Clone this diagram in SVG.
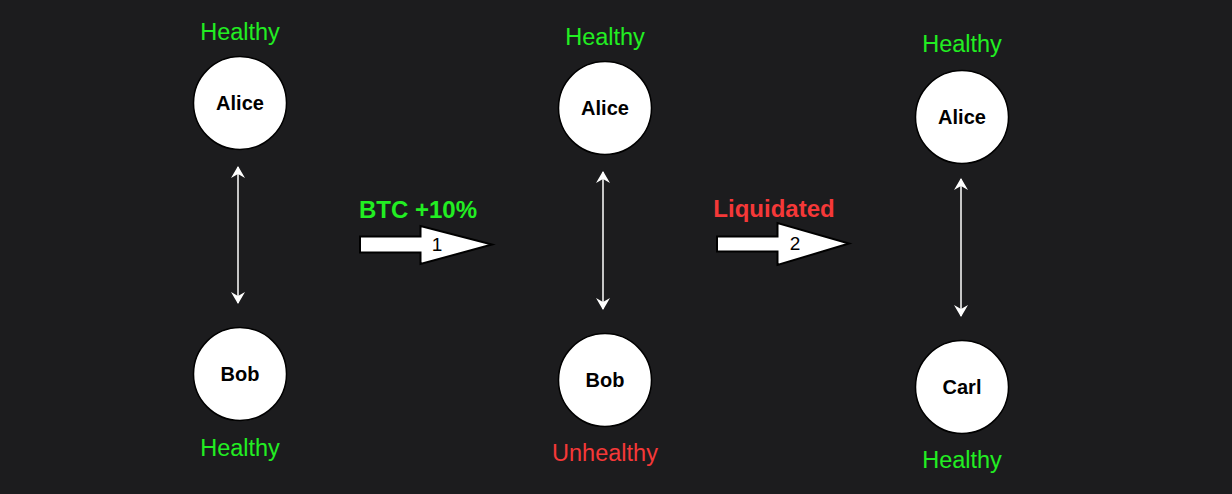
<svg xmlns="http://www.w3.org/2000/svg" width="1232" height="494" viewBox="0 0 1232 494">
<defs>
<style>
.bg{fill:#1c1c1e}
.node circle{fill:#fff;stroke:#000;stroke-width:1.5}
.node text{font-family:"Liberation Sans",Arial,sans-serif;font-weight:bold;font-size:20px;fill:#000;text-anchor:middle}
.st{font-family:"Liberation Sans",Arial,sans-serif;font-size:23.5px;text-anchor:middle}
.ok{fill:#22ee22}
.bad{fill:#f53838}
.lbl{font-family:"Liberation Sans",Arial,sans-serif;font-weight:bold;font-size:24px;text-anchor:middle}
.link{stroke:#fff;stroke-width:1.5;fill:none;marker-start:url(#ah);marker-end:url(#ah)}
.big{fill:#fff;stroke:#000;stroke-width:2}
.num{font-family:"Liberation Sans",Arial,sans-serif;font-size:19px;fill:#000;text-anchor:middle}
</style>
<marker id="ah" viewBox="0 0 12 14" refX="11" refY="7" markerWidth="12" markerHeight="14" markerUnits="userSpaceOnUse" orient="auto-start-reverse">
<path d="M0,0 L12,7 L0,14 L4,7 Z" fill="#fff"/>
</marker>
</defs>
<rect class="bg" width="1232" height="494"/>
<g id="connectors">
<line class="link" x1="238" y1="167" x2="238" y2="303"/>
<line class="link" x1="603" y1="172" x2="603" y2="309"/>
<line class="link" x1="961" y1="179" x2="961" y2="316"/>
</g>
<g id="step1">
<path class="big" d="M360,236.5 H420.5 V226 L492,244.5 L420.5,264 V252.5 H360 Z"/>
<text class="num" x="437" y="251">1</text>
<text class="lbl ok" x="418" y="218">BTC +10%</text>
</g>
<g id="step2">
<path class="big" d="M717,236.5 H777.5 V223 L849,243.5 L777.5,265 V251.5 H717 Z"/>
<text class="num" x="795" y="250">2</text>
<text class="lbl bad" x="774" y="217">Liquidated</text>
</g>
<g id="alice1" class="node">
<circle cx="240" cy="103" r="46.5"/>
<text x="240" y="110">Alice</text>
</g>
<text class="st ok" x="240" y="40">Healthy</text>
<g id="bob1" class="node">
<circle cx="240" cy="374" r="46.5"/>
<text x="240" y="381">Bob</text>
</g>
<text class="st ok" x="240" y="456">Healthy</text>
<g id="alice2" class="node">
<circle cx="605" cy="108" r="46.5"/>
<text x="605" y="115">Alice</text>
</g>
<text class="st ok" x="605" y="45">Healthy</text>
<g id="bob2" class="node">
<circle cx="605" cy="380" r="46.5"/>
<text x="605" y="387">Bob</text>
</g>
<text class="st bad" x="605" y="461">Unhealthy</text>
<g id="alice3" class="node">
<circle cx="962" cy="117" r="46.5"/>
<text x="962" y="124">Alice</text>
</g>
<text class="st ok" x="962" y="52">Healthy</text>
<g id="carl3" class="node">
<circle cx="962" cy="387" r="46.5"/>
<text x="962" y="394">Carl</text>
</g>
<text class="st ok" x="962" y="468">Healthy</text>
</svg>
